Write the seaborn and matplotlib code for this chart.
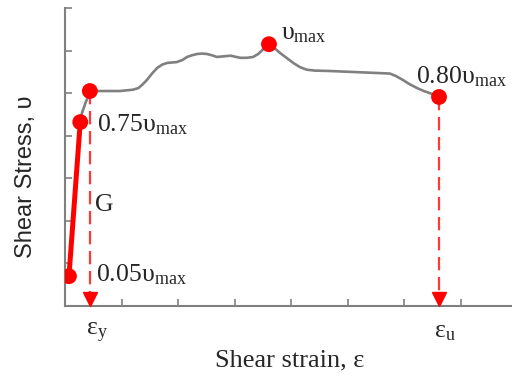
"""Shear stress-strain curve with the yield / peak / ultimate points marked."""
import numpy as np
import pandas as pd
import matplotlib
matplotlib.use("Agg")
import matplotlib.pyplot as plt
import seaborn as sns

# measured curve (strain, stress) in tick units
curve_strain = [0.07, 0.27, 0.30, 0.37, 0.41, 0.44, 0.62, 0.97, 1.20, 1.30, 1.37,
                1.45, 1.54, 1.63, 1.72, 1.81, 1.98, 2.08, 2.16, 2.25, 2.34, 2.43,
                2.51, 2.60, 2.69, 2.93, 3.10, 3.22, 3.33, 3.42, 3.49, 3.56, 3.61,
                3.67, 3.81, 3.93, 4.04, 4.16, 4.28, 4.42, 4.69, 5.58, 5.75, 5.86,
                5.98, 6.10, 6.23, 6.35, 6.46, 6.62]
curve_stress = [0.70, 4.32, 4.53, 4.80, 4.91, 5.05, 5.05, 5.05, 5.08, 5.12, 5.20,
                5.31, 5.46, 5.59, 5.67, 5.71, 5.73, 5.78, 5.85, 5.89, 5.92, 5.93,
                5.92, 5.89, 5.85, 5.88, 5.83, 5.83, 5.85, 5.92, 6.01, 6.10, 6.15,
                6.10, 5.94, 5.82, 5.71, 5.61, 5.55, 5.53, 5.52, 5.47, 5.46, 5.40,
                5.31, 5.21, 5.12, 5.05, 5.00, 4.91]

# key points
pt_names = ["0.05", "0.75", "yield", "max", "0.80"]
pt_strain = [0.07, 0.27, 0.44, 3.61, 6.62]
pt_stress = [0.70, 4.32, 5.05, 6.15, 4.91]

# elastic branch G between 0.05 and 0.75 points
g_strain = [0.07, 0.27]
g_stress = [0.70, 4.32]

# strain markers on the x axis
eps_y = 0.44
eps_u = 6.62

sns.set_theme(style="ticks")
plt.rcParams["font.family"] = ["Liberation Serif", "DejaVu Serif"]
plt.rcParams["mathtext.fontset"] = "custom"
plt.rcParams["mathtext.rm"] = "Liberation Serif"
plt.rcParams["mathtext.it"] = "Liberation Serif:italic"

fig = plt.figure(figsize=(5.12, 3.77), dpi=100)
ax = fig.add_axes([65 / 512, 71 / 377, 447 / 512, 298 / 377])

df_curve = pd.DataFrame({"strain": curve_strain, "stress": curve_stress})
sns.lineplot(data=df_curve, x="strain", y="stress", color="#808080",
             linewidth=1.9, estimator=None, sort=False, ax=ax, zorder=2,
             solid_joinstyle="round", solid_capstyle="round")

df_g = pd.DataFrame({"strain": g_strain, "stress": g_stress})
sns.lineplot(data=df_g, x="strain", y="stress", color="#ff0000",
             linewidth=3.6, estimator=None, sort=False, ax=ax, zorder=3)

# dashed drop lines with arrow heads
for xv, yv in [(eps_y, pt_stress[2]), (eps_u, pt_stress[4])]:
    ax.plot([xv, xv], [yv, 0.3], color="#ff3838", linestyle=(0, (6, 3)),
            linewidth=1.6, zorder=2)
    ax.plot([xv], [0.17], marker="v", markersize=10.5, color="#ff0000",
            linestyle="none", zorder=4, clip_on=False)

df_pts = pd.DataFrame({"strain": pt_strain, "stress": pt_stress, "name": pt_names})
sns.scatterplot(data=df_pts, x="strain", y="stress", color="#ff0000", s=130,
                edgecolor="none", ax=ax, zorder=5)

fs = 18.5
ax.text(0.57, 4.25, r"0.75υ$_{\rm max}$", fontsize=fs, va="center", ha="left")
ax.text(3.82, 6.40, r"υ$_{\rm max}$", fontsize=fs, va="center", ha="left")
ax.text(6.22, 5.38, r"0.80υ$_{\rm max}$", fontsize=fs, va="center", ha="left",
        clip_on=False)
ax.text(0.53, 2.37, "G", fontsize=fs, va="center", ha="left")
ax.text(0.55, 0.73, r"0.05υ$_{\rm max}$", fontsize=fs, va="center", ha="left")
ax.text(0.57, -0.63, r"ε$_{\rm y}$", fontsize=fs, va="center", ha="center")
ax.text(6.73, -0.61, r"ε$_{\rm u}$", fontsize=fs, va="center", ha="center")

ax.set_xlim(0, 447 / 56.5)
ax.set_ylim(0, 7)
ax.set_xticks(np.arange(0, 8))
ax.set_yticks(np.arange(0, 8))
ax.set_xticklabels([])
ax.set_yticklabels([])
ax.tick_params(direction="in", length=5, width=1.2, color="#808080")

ax.set_xlabel("Shear strain, ε", fontsize=19)
ax.xaxis.set_label_coords(0.503, -0.145)
ax.set_ylabel("Shear Stress, υ", fontsize=17, family=["Liberation Sans Narrow", "Liberation Sans"])
ax.yaxis.set_label_coords(-0.063, 0.433)

sns.despine(ax=ax)
for side in ["left", "bottom"]:
    ax.spines[side].set_color("#808080")
    ax.spines[side].set_linewidth(1.5)

fig.savefig("out.png", dpi=100)
